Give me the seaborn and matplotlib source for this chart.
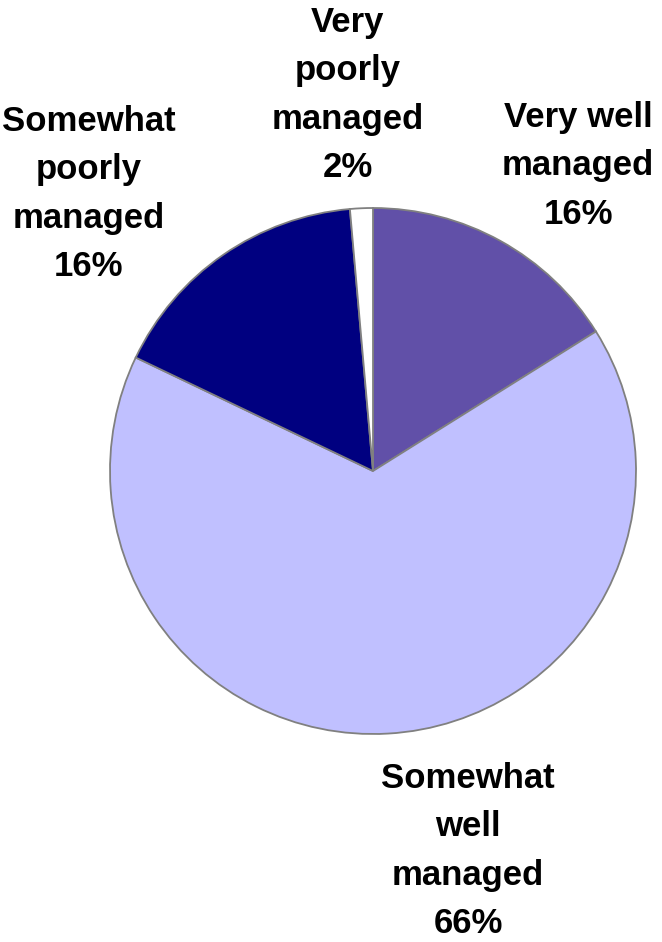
import matplotlib
matplotlib.use("Agg")
import matplotlib.pyplot as plt
import seaborn as sns

categories = ["Very well\nmanaged", "Somewhat\nwell\nmanaged", "Somewhat\npoorly\nmanaged", "Very\npoorly\nmanaged"]
values = [16.1, 66.0, 16.5, 1.4]
pct_labels = ["16%", "66%", "16%", "2%"]
colors = ["#6150A8", "#C0C0FF", "#000080", "#FFFFFF"]

sns.set_theme(style="white")
plt.rcParams["font.family"] = ["Liberation Sans", "DejaVu Sans"]

W, H = 662, 942
fig = plt.figure(figsize=(W / 100, H / 100), dpi=100)
ax = fig.add_axes([0, 0, 1, 1])

cx, cy, r = 373, H - 471, 263
ax.pie(values, colors=colors, startangle=90, counterclock=False,
       center=(cx, cy), radius=r, frame=True,
       wedgeprops=dict(edgecolor="#808080", linewidth=1.3))
ax.set_xlim(0, W)
ax.set_ylim(0, H)
ax.set_aspect("equal")
ax.axis("off")

label_pos = [(578, H - 166), (468, H - 851), (89, H - 194), (348, H - 95)]
for (x, y), cat, pct in zip(label_pos, categories, pct_labels):
    ax.text(x, y, f"{cat}\n{pct}", ha="center", va="center", fontsize=25,
            fontweight="bold", linespacing=1.6, color="black")

fig.savefig("out.png", dpi=100)
